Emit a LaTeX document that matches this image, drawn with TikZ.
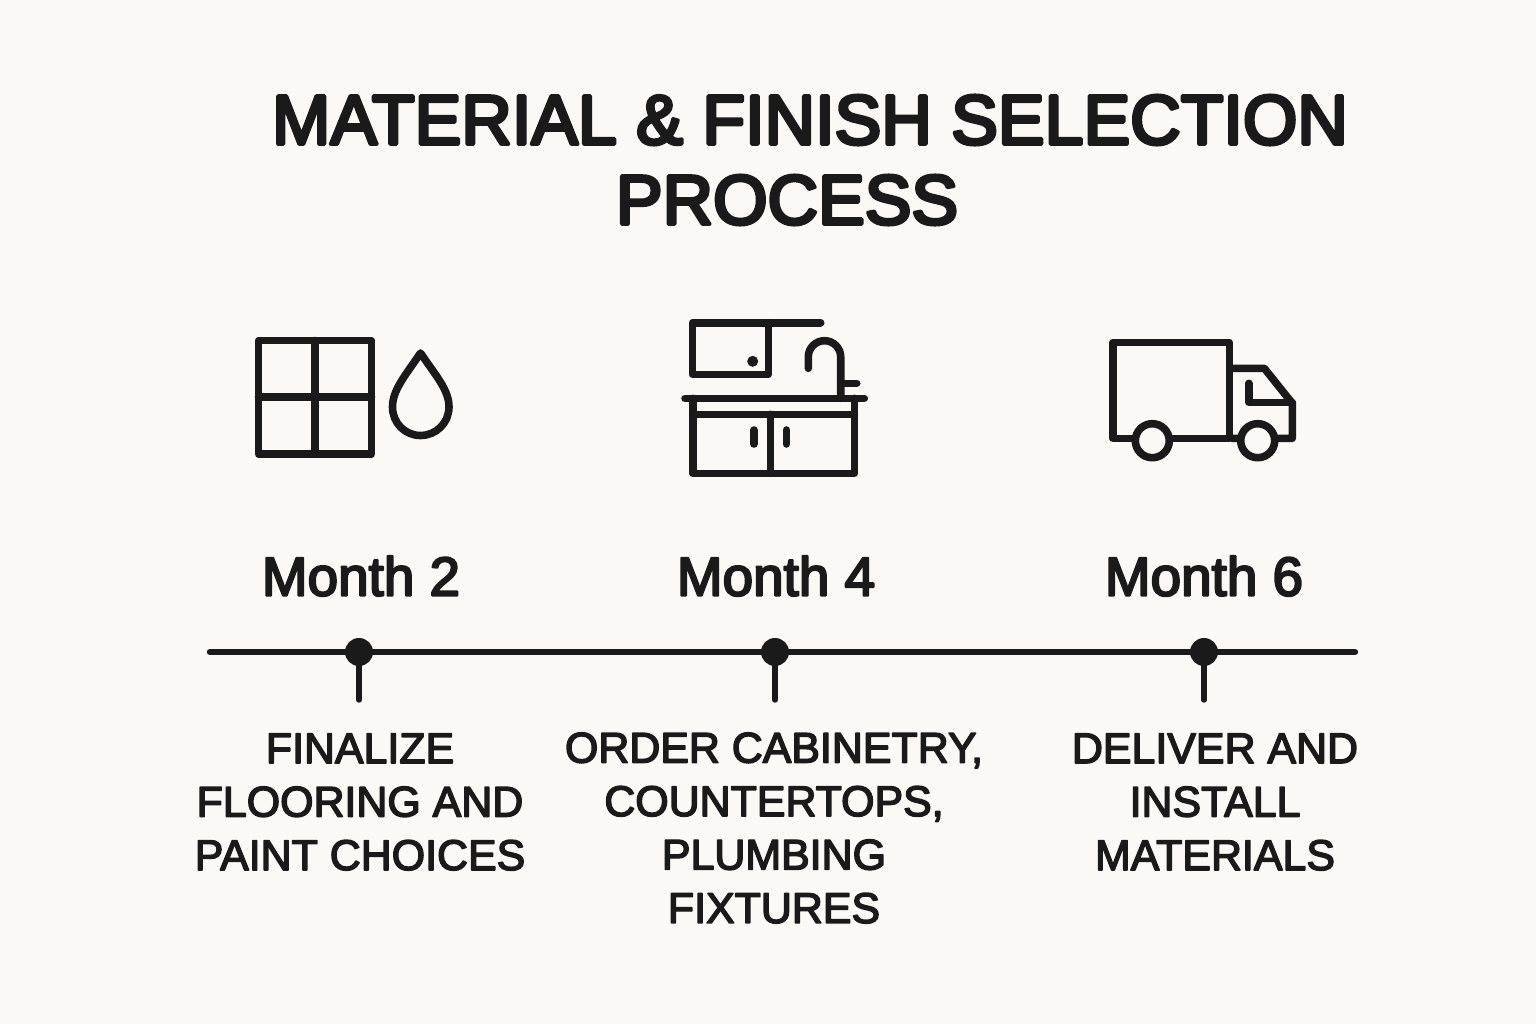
\documentclass[tikz,border=0pt]{standalone}
\usepackage{fontspec}
\usetikzlibrary{calc}
\setmainfont{Liberation Sans}
\definecolor{paper}{HTML}{FAF9F5}
\definecolor{ink}{HTML}{1A1A1A}
\newcommand{\heavier}[1]{\special{pdf:code 2 Tr #1 w 1 j 0.102 0.102 0.102 RG}}
\tikzset{
    icon/.style = {draw = ink, line width = 7.6*0.2845pt, line cap = round, line join = round},
    axisline/.style = {draw = ink, line width = 6.4*0.2845pt, line cap = round},
    dot/.style = {circle, fill = ink, inner sep = 0pt, outer sep = 0pt, minimum size = 28*0.2845pt},
    tick/.style = {draw = ink, line width = 5.4*0.2845pt, line cap = round},
    title/.style = {text = ink, font = \fontsize{19.9}{19.9}\selectfont, execute at begin node = {\heavier{1.0}}},
    month/.style = {text = ink, font = \fontsize{15.6}{15.6}\selectfont, execute at begin node = {\heavier{0.6}}},
    action/.style = {text = ink, align = center, font = \fontsize{12.2}{15.2}\selectfont, execute at begin node = {\heavier{0.42}}}
}
\begin{document}
\begin{tikzpicture}[x = 0.01cm, y = -0.01cm]
    \useasboundingbox [fill = paper] (0,0) rectangle (1536,1024);
    % title
    \node [title] (titleA) at (810,120) {MATERIAL \& FINISH SELECTION};
    \node [title] (titleB) at (787,200) {PROCESS};
    % tile and drop
    \draw [icon] (258.5,340.5) rectangle (371.5,454);
    \draw [icon] (315,340.5) -- (315,454);
    \draw [icon] (258.5,397) -- (371.5,397);
    \draw [icon] (420.5,353) .. controls (405,376) and (392.5,390) .. (392.5,407)
        .. controls (392.5,423) and (405,435.5) .. (420.5,435.5)
        .. controls (436,435.5) and (449,423) .. (449,407)
        .. controls (449,390) and (436,376) .. (420.5,353) -- cycle;
    % kitchen
    \draw [icon] (820.7,322.7) -- (692.3,322.7) -- (692.3,374.3) -- (768.3,374.3) -- (768.3,322.7);
    \fill [ink] (752.7,361.3) circle (5.5);
    \draw [icon] (808.3,368.3) -- (808.3,356.7) .. controls (808.3,347.9) and (815.7,340.7) .. (824.5,340.7)
        .. controls (833.3,340.7) and (840.7,347.9) .. (840.7,356.7) -- (840.7,398.3);
    \draw [icon] (840.7,383.3) -- (856.7,383.3);
    \draw [icon] (685,398.3) -- (864.3,398.3);
    \draw [icon] (692.7,398.3) -- (692.7,473.3) -- (854.3,473.3) -- (854.3,398.3);
    \draw [icon] (692.7,414.3) -- (854.3,414.3);
    \draw [icon] (770.3,414.3) -- (770.3,473.3);
    \draw [icon] (753.7,430) -- (753.7,444);
    \draw [icon] (786.3,430) -- (786.3,444);
    % truck
    \draw [icon] (1113,342.3) rectangle (1229.3,438.3);
    \draw [icon] (1232,368.3) -- (1264.3,368.3) -- (1292.3,403.3) -- (1292.3,438.3) -- (1232,438.3);
    \draw [icon] (1248.7,383.3) -- (1248.7,402.3) -- (1292.3,402.3);
    \draw [icon, fill = paper] (1152.3,440.7) circle (17);
    \draw [icon, fill = paper] (1257.7,440.7) circle (17);
    % timeline
    \coordinate (start) at (210,652);
    \coordinate (end) at (1355,652);
    \draw [axisline] (start) -- (end);
    \coordinate (tickA) at (359,700);
    \coordinate (tickB) at (775,700);
    \coordinate (tickC) at (1204,700);
    \node [dot] (dotA) at (359,652) {};
    \node [dot] (dotB) at (775,652) {};
    \node [dot] (dotC) at (1204,652) {};
    \draw [tick] (dotA) -- (tickA);
    \draw [tick] (dotB) -- (tickB);
    \draw [tick] (dotC) -- (tickC);
    \node [month] (monthA) at (361,576) {Month 2};
    \node [month] (monthB) at (776,576) {Month 4};
    \node [month] (monthC) at (1204,576) {Month 6};
    \node [action] (actionA) at (360,802) {FINALIZE\\FLOORING AND\\PAINT CHOICES};
    \node [action] (actionB) at (774,828) {ORDER CABINETRY,\\COUNTERTOPS,\\PLUMBING\\FIXTURES};
    \node [action] (actionC) at (1215,802) {DELIVER AND\\INSTALL\\MATERIALS};
\end{tikzpicture}
\end{document}
